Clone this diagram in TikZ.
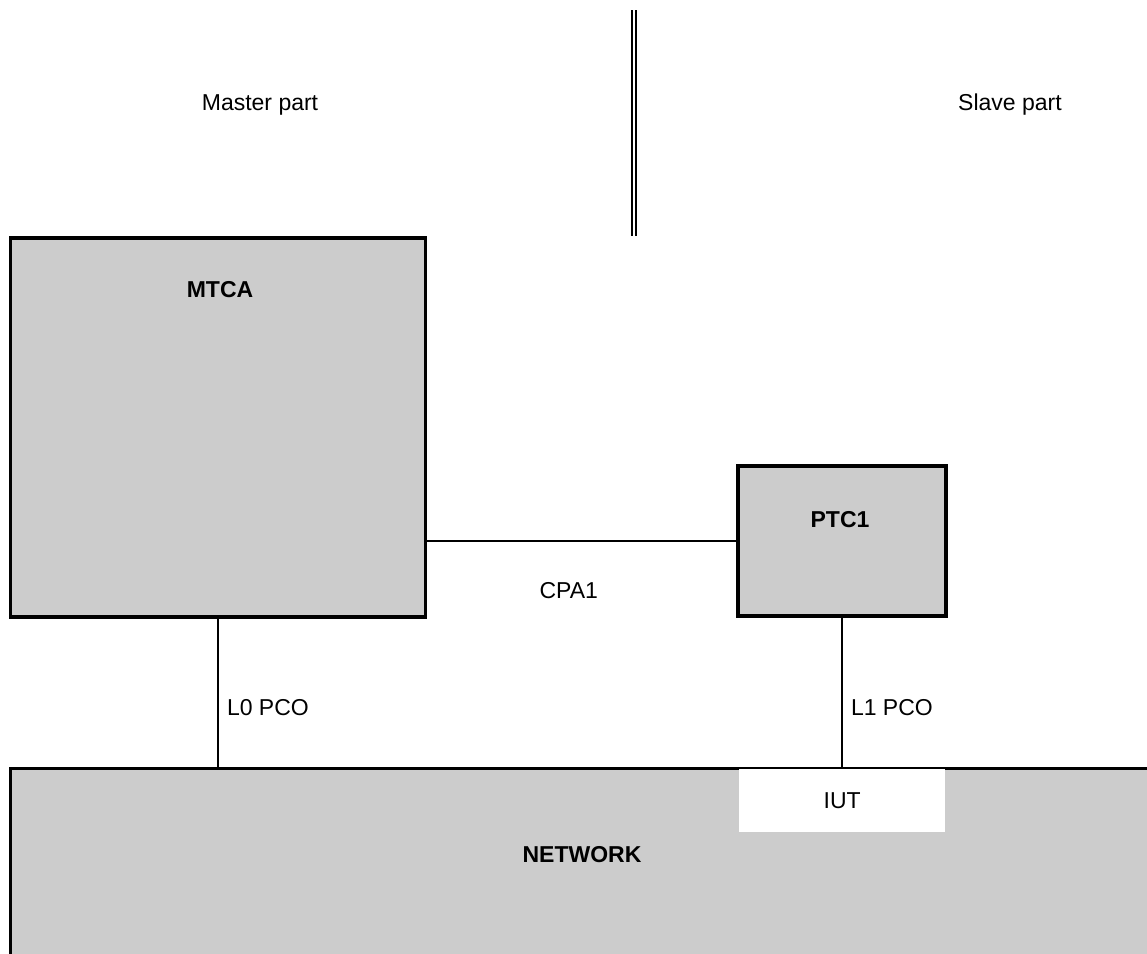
\documentclass[tikz,border=0pt]{standalone}
\usepackage{fontspec}
\setmainfont{Liberation Sans}
\usetikzlibrary{positioning}
\definecolor{boxgray}{RGB}{204,204,204}
\tikzset{
box/.style={draw,fill=boxgray,line width=3.2pt,inner sep=0pt,outer sep=0pt},
link/.style={line width=2pt},
txt/.style={font=\fontsize{23}{27}\selectfont,inner sep=2pt},
title/.style={font=\fontsize{23}{27}\selectfont\bfseries,inner sep=2pt}
}

\begin{document}
\begin{tikzpicture}[x=1pt,y=-1pt]
\useasboundingbox (0,0) rectangle (1147,953);
\clip (0,0) rectangle (1147,953);

% the two parts
\node[txt] (master) at (260,105) {Master part};
\node[txt] (slave) at (1010,105) {Slave part};
\coordinate (divtop) at (634,10);
\coordinate (divbot) at (634,236);
\draw[double,double distance=1.6pt,line width=2pt] (divtop) -- (divbot);

% boxes
\node[box,minimum width=415pt,minimum height=379pt] (mtca) at (218,427.5) {};
\node[title] (mtcalbl) at (220,290) {MTCA};
\node[box,minimum width=208pt,minimum height=150pt] (ptc) at (842,541) {};
\node[title] (ptclbl) at (840,520) {PTC1};
\node[box,draw=none,minimum width=1150pt,minimum height=200pt,anchor=north west] (net) at (10.6,768.6) {};
\draw[line width=3.2pt] (net.south west) -- (net.north west) -- (net.north east);
\node[txt,fill=white,minimum width=206pt,minimum height=63pt,anchor=north west] (iut) at (739,769) {IUT};
\node[title] (netlbl) at (582,855) {NETWORK};

% links
\draw[link] (ptc.west) -- (ptc.west -| mtca.east) node[txt,midway,yshift=-50pt,xshift=-13pt] (cpa) {CPA1};
\draw[link] (mtca.south) -- (mtca.south |- net.north) node[txt,pos=0.6,right=6pt] (l0) {L0 PCO};
\draw[link] (ptc.south) -- (ptc.south |- net.north) node[txt,pos=0.6,right=6pt] (l1) {L1 PCO};
\end{tikzpicture}
\end{document}
